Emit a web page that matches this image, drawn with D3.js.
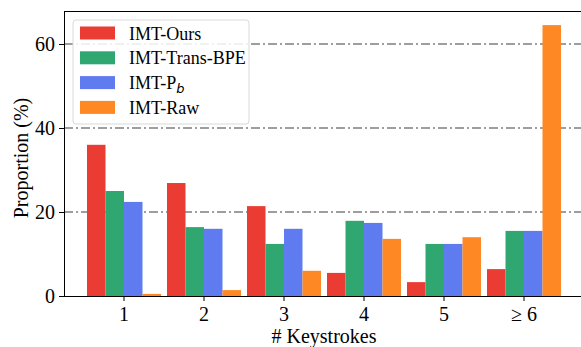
<html>
<head>
    <style type="text/css">
        body{ margin: 0; background-color: #fff; }
        svg{ display: block; font-family: "Liberation Serif", "DejaVu Serif", serif; }
        .grid line{ stroke: #7f7f7f; stroke-width: 1.5px; stroke-dasharray: 9,3,2,3; }
        .axis path, .axis line{ stroke: #000; stroke-width: 1px; }
    </style>
    <script type="text/javascript" src="https://cdn.jsdelivr.net/npm/d3@7"></script>
</head>
<body>
<div id="chart"></div>
<script type="text/javascript">
    var categories = ['1', '2', '3', '4', '5', '\u2265 6'];
    var series = ['IMT-Ours', 'IMT-Trans-BPE', 'IMT-Pb', 'IMT-Raw'];
    var ours     = [36.0, 26.9, 21.4, 5.5, 3.3, 6.4];
    var transBpe = [25.0, 16.4, 12.4, 17.9, 12.4, 15.5];
    var pb       = [22.4, 16.0, 16.0, 17.4, 12.4, 15.5];
    var raw      = [0.5, 1.4, 6.0, 13.6, 14.0, 64.5];
    var yTicks = [0, 20, 40, 60];
    var colors = ['#ea3c33', '#30a771', '#5f7bf0', '#fe8823'];

    var width = 581, height = 347;
    var plotLeft = 64, plotTop = 11, plotBottom = 296;

    var values = [ours, transBpe, pb, raw];

    var svg = d3.select('#chart')
        .append('svg')
        .attr('width', width)
        .attr('height', height);

    // 80px per category, first tick at 124
    var xScale = d3.scaleBand()
        .domain(categories)
        .range([84, 564])
        .paddingInner(0.075)
        .paddingOuter(0.0375);

    var xSub = d3.scaleBand()
        .domain(series)
        .range([0, xScale.bandwidth()]);

    var yScale = d3.scaleLinear()
        .domain([0, 67.86])
        .range([plotBottom, plotTop]);

    // dash-dot grid
    svg.append('g')
        .attr('class', 'grid')
        .selectAll('line')
        .data(yTicks.filter(function(d){ return d > 0; }))
        .enter()
        .append('line')
        .attr('x1', plotLeft)
        .attr('x2', width)
        .attr('y1', function(d){ return yScale(d); })
        .attr('y2', function(d){ return yScale(d); });

    var groups = svg.selectAll('.group')
        .data(categories)
        .enter()
        .append('g')
        .attr('class', 'group')
        .attr('transform', function(d){ return 'translate(' + xScale(d) + ',0)'; });

    groups.selectAll('rect')
        .data(function(d, i){
            return series.map(function(s, j){ return {s: s, v: values[j][i], j: j}; });
        })
        .enter()
        .append('rect')
        .attr('x', function(d){ return xSub(d.s); })
        .attr('width', xSub.bandwidth())
        .attr('y', function(d){ return yScale(d.v); })
        .attr('height', function(d){ return plotBottom - yScale(d.v); })
        .attr('fill', function(d){ return colors[d.j]; });

    // axes
    var xAxis = d3.axisBottom(xScale).tickSize(5).tickPadding(6).tickSizeOuter(0);
    var yAxis = d3.axisLeft(yScale).tickValues(yTicks).tickSize(5).tickPadding(4).tickSizeOuter(0);

    var xAxisG = svg.append('g')
        .attr('class', 'axis')
        .attr('transform', 'translate(0,' + plotBottom + ')')
        .call(xAxis);
    xAxisG.select('.domain').attr('d', 'M' + plotLeft + ',0.5H' + width);

    var yAxisG = svg.append('g')
        .attr('class', 'axis')
        .attr('transform', 'translate(' + plotLeft + ',0)')
        .call(yAxis);
    yAxisG.select('.domain').attr('d', 'M0.5,' + plotBottom + 'V' + plotTop);

    svg.selectAll('.axis')
        .attr('font-family', '"Liberation Serif", serif')
        .attr('font-size', 20);
    svg.selectAll('.axis text').attr('fill', '#000');

    // top spine
    svg.append('line')
        .attr('x1', plotLeft).attr('x2', width)
        .attr('y1', plotTop + 0.5).attr('y2', plotTop + 0.5)
        .attr('stroke', '#000');

    // axis labels
    svg.append('text')
        .attr('x', 324)
        .attr('y', 343)
        .attr('text-anchor', 'middle')
        .attr('font-size', 20)
        .text('# Keystrokes');

    svg.append('text')
        .attr('transform', 'translate(28,158) rotate(-90)')
        .attr('text-anchor', 'middle')
        .attr('font-size', 20)
        .text('Proportion (%)');

    // legend
    var legend = svg.append('g')
        .attr('transform', 'translate(73,20)');

    legend.append('rect')
        .attr('width', 176)
        .attr('height', 104)
        .attr('rx', 3)
        .attr('fill', '#fff')
        .attr('fill-opacity', 0.85)
        .attr('stroke', '#d9d9d9');

    var items = legend.selectAll('.item')
        .data(series)
        .enter()
        .append('g')
        .attr('class', 'item')
        .attr('transform', function(d, i){ return 'translate(7,' + (13 + i * 24.8) + ')'; });

    items.append('rect')
        .attr('x', 0)
        .attr('y', -6.5)
        .attr('width', 35)
        .attr('height', 13)
        .attr('fill', function(d, i){ return colors[i]; });

    items.append('text')
        .attr('x', 49)
        .attr('y', 6.5)
        .attr('font-size', 18)
        .each(function(d){
            var t = d3.select(this);
            if (d === 'IMT-Pb') {
                t.append('tspan').text('IMT-P');
                t.append('tspan')
                    .attr('dy', 4)
                    .attr('font-size', 13)
                    .attr('font-style', 'italic')
                    .attr('font-family', '"DejaVu Sans", sans-serif')
                    .text('b');
            } else {
                t.text(d);
            }
        });
</script>
</body>
</html>
